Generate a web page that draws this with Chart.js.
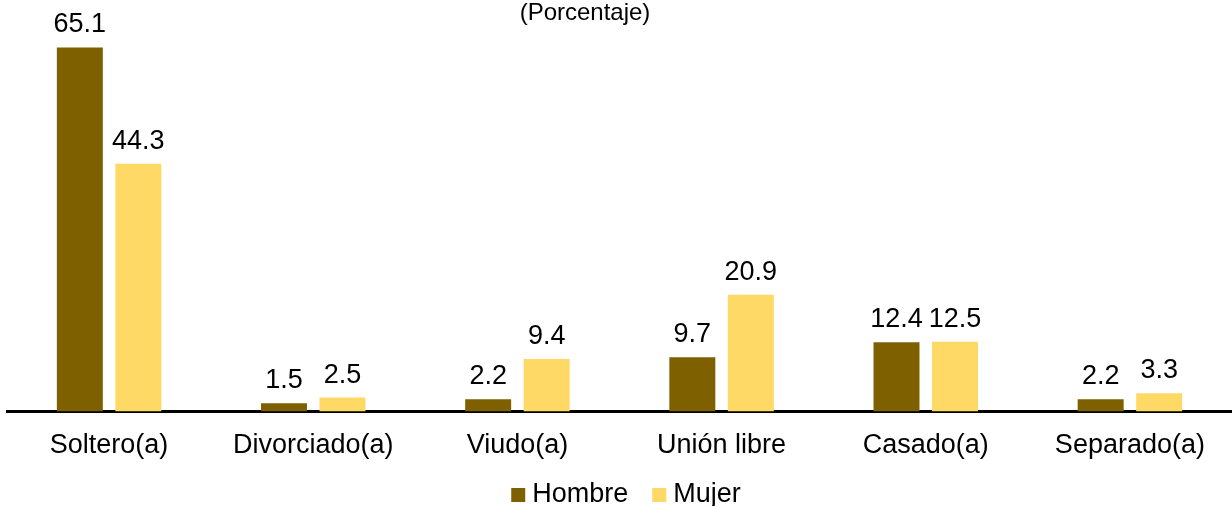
<!DOCTYPE html>
<html>
<head>
<meta charset="utf-8">
<script src="https://cdn.jsdelivr.net/npm/chart.js@4"></script>
<style>
  html, body { margin: 0; padding: 0; background: #fff; }
  #wrap { width: 1232px; height: 506px; }
</style>
</head>
<body>
<div id="wrap"><canvas id="chart"></canvas></div>
<script>
const categories = ['Soltero(a)', 'Divorciado(a)', 'Viudo(a)', 'Unión libre', 'Casado(a)', 'Separado(a)'];
const hombre = [65.1, 1.5, 2.2, 9.7, 12.4, 2.2];
const mujer = [44.3, 2.5, 9.4, 20.9, 12.5, 3.3];
const subtitle = '(Porcentaje)';

const FONT = '"Liberation Sans", Arial, sans-serif';

// value labels above each bar
const barLabels = {
  id: 'barLabels',
  afterDatasetsDraw(chart) {
    const ctx = chart.ctx;
    ctx.save();
    ctx.font = '27px ' + FONT;
    ctx.fillStyle = '#000';
    ctx.textAlign = 'center';
    ctx.textBaseline = 'alphabetic';
    chart.data.datasets.forEach((ds, i) => {
      chart.getDatasetMeta(i).data.forEach((bar, j) => {
        ctx.fillText(ds.data[j].toFixed(1), bar.x, bar.y - 15);
      });
    });
    ctx.restore();
  }
};

// subtitle and legend drawn by hand so they don't move the plot area
const extras = {
  id: 'extras',
  afterDraw(chart) {
    const ctx = chart.ctx;
    ctx.save();
    ctx.fillStyle = '#000';
    ctx.font = '24px ' + FONT;
    ctx.textAlign = 'center';
    ctx.textBaseline = 'middle';
    ctx.fillText(subtitle, 585, 13);

    ctx.font = '27px ' + FONT;
    ctx.textAlign = 'left';
    ctx.textBaseline = 'alphabetic';
    const ds = chart.data.datasets;
    const widths = ds.map(d => ctx.measureText(d.label).width);
    const total = widths.reduce((a, w) => a + 14 + 7 + w, 0) + 24 * (ds.length - 1);
    let x = 626 - total / 2;
    ds.forEach((d, i) => {
      ctx.fillStyle = d.backgroundColor;
      ctx.fillRect(x, 488, 14, 14);
      ctx.fillStyle = '#000';
      ctx.fillText(d.label, x + 21, 502);
      x += 21 + widths[i] + 24;
    });
    ctx.restore();
  }
};

new Chart(document.getElementById('chart'), {
  type: 'bar',
  data: {
    labels: categories,
    datasets: [
      { label: 'Hombre', data: hombre, backgroundColor: '#7F6000' },
      { label: 'Mujer', data: mujer, backgroundColor: '#FFD966' }
    ]
  },
  options: {
    responsive: true,
    maintainAspectRatio: false,
    animation: false,
    categoryPercentage: 0.573,
    barPercentage: 0.786,
    layout: { padding: { top: 20, left: 7, right: 0, bottom: 26 } },
    scales: {
      x: {
        grid: { display: false, drawTicks: false },
        border: { display: true, color: '#000', width: 3 },
        ticks: { color: '#000', font: { family: FONT, size: 27 }, padding: 18 }
      },
      y: {
        display: false,
        min: 0,
        max: 70
      }
    },
    plugins: {
      legend: { display: false },
      tooltip: { enabled: false }
    }
  },
  plugins: [barLabels, extras]
});
</script>
</body>
</html>
